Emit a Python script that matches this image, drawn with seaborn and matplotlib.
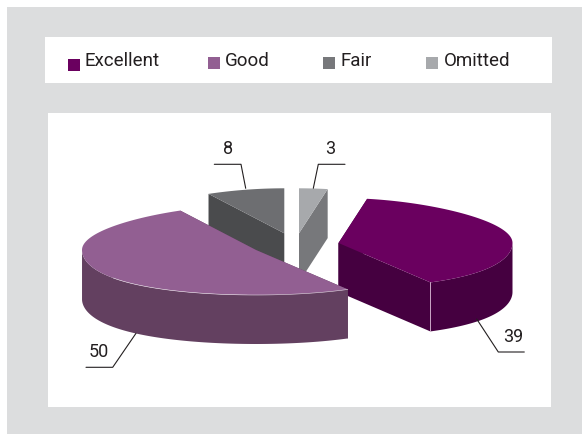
import numpy as np
import matplotlib
matplotlib.use('Agg')
import matplotlib.pyplot as plt
import seaborn as sns
from matplotlib.patches import Rectangle, Polygon

categories = ['Excellent', 'Good', 'Fair', 'Omitted']
values = [39, 50, 8, 3]
top_colors = ['#6a005f', '#925f92', '#6d6e71', '#a7a9ac']
side_colors = ['#450040', '#634060', '#4a4b4d', '#77787b']
legend_colors = ['#6a005f', '#925f92', '#77787b', '#a7a9ac']

sns.set_theme(style='white')
# no condensed Helvetica here, Roboto is the closest width
plt.rcParams['font.family'] = ['Roboto', 'DejaVu Sans']

# the pie is laid out in pixels of the picture
RX, RY, DEPTH, PERSP = 174, 45, 49, 0.125
START = 79.2
centers = {'Excellent': (338.5, 243), 'Good': (256, 250), 'Fair': (284.3, 233.3), 'Omitted': (299, 233.3)}
draw_order = ['Omitted', 'Fair', 'Excellent', 'Good']
leaders = {
    'Excellent': ([524.3, 498.3, 476.7], [352, 352, 319], 513, 337),
    'Good': ([86, 112.7, 136], [367.3, 367.3, 333.3], 98.5, 352),
    'Fair': ([214.3, 241, 245.7], [164.3, 164.3, 188.3], 228, 149),
    'Omitted': ([345, 318.3, 313.3], [164.3, 164.3, 188.3], 330, 149),
}


def project(center, angles):
    # flat ellipse, the near side a little wider than the far side
    rad = np.radians(angles)
    s = np.sin(rad)
    return center[0] + RX * np.cos(rad) * (1 - PERSP * s * np.abs(s)), center[1] - RY * s


fig = plt.figure(figsize=(5.82, 4.34), dpi=100, facecolor='white')
ax = fig.add_axes([0, 0, 1, 1])
ax.set_xlim(0, 582)
ax.set_ylim(434, 0)
ax.axis('off')

ax.add_patch(Rectangle((7, 7), 575, 427, fc='#dcddde', ec='none'))
ax.add_patch(Rectangle((45, 37), 507, 46, fc='white', ec='none'))
ax.add_patch(Rectangle((48, 113), 503, 294, fc='white', ec='none'))

# slice angles from the values, clockwise
spans = np.array(values) / sum(values) * 360
ends = START - np.cumsum(spans)
starts = ends + spans
angle_of = {c: (a, b) for c, a, b in zip(categories, starts, ends)}

for name in draw_order:
    i = categories.index(name)
    c = centers[name]
    a0, a1 = angle_of[name]
    t = np.linspace(a0, a1, 160)
    x, y = project(c, t)
    # cut faces
    for xe, ye in [(x[0], y[0]), (x[-1], y[-1])]:
        ax.add_patch(Polygon([(c[0], c[1]), (xe, ye), (xe, ye + DEPTH), (c[0], c[1] + DEPTH)],
                             fc=side_colors[i], ec='none'))
    # outer wall, only the part facing the viewer
    front = np.sin(np.radians(t)) <= 0
    if front.any():
        xf, yf = x[front], y[front]
        wall = np.column_stack([np.r_[xf, xf[::-1]], np.r_[yf, yf[::-1] + DEPTH]])
        ax.add_patch(Polygon(wall, fc=side_colors[i], ec='none'))
    top = np.column_stack([np.r_[c[0], x], np.r_[c[1], y]])
    ax.add_patch(Polygon(top, fc=top_colors[i], ec='none'))
    if name == 'Good':
        ax.plot(x[front][:len(x[front]) // 2 + 20], y[front][:len(x[front]) // 2 + 20], color='#e4dbe4', lw=0.4)

# light seam on the corner of the Excellent slice
xe, ye = project(centers['Excellent'], np.array([angle_of['Excellent'][1]]))
ax.plot([xe[0], xe[0]], [ye[0], ye[0] + DEPTH], color='#d9b8d4', lw=0.6)

for i, name in enumerate(categories):
    lx, ly, tx, ty = leaders[name]
    ax.plot(lx, ly, color='#231f20', lw=0.8)
    ax.text(tx, ty, str(values[i]), ha='center', va='center', fontsize=13, color='#231f20')

# legend
marker_x = [68, 208, 323, 426]
marker_y = [59, 57, 57, 57]
text_x = [85, 225, 341, 443.6]
for name, color, mx, my, tx in zip(categories, legend_colors, marker_x, marker_y, text_x):
    ax.add_patch(Rectangle((mx, my), 12, 12, fc=color, ec='none'))
    ax.text(tx, 61, name, ha='left', va='center', fontsize=13.5, color='#231f20')

fig.savefig('out.png', dpi=100)
